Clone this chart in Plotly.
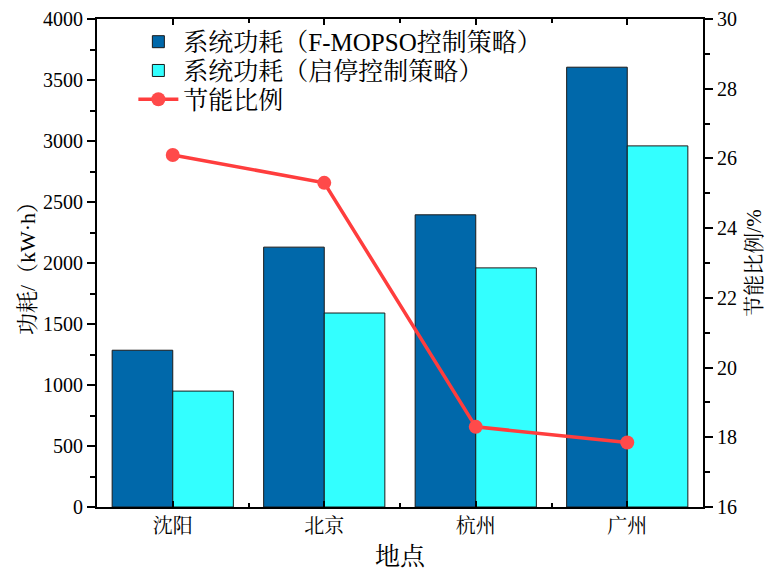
import plotly.graph_objects as go

categories = ["沈阳", "北京", "杭州", "广州"]
power_fmopso = [1285, 2130, 2395, 3605]
power_startstop = [950, 1590, 1960, 2960]
saving_ratio = [26.1, 25.3, 18.3, 17.85]

names = ["系统功耗（F-MOPSO控制策略）", "系统功耗（启停控制策略）", "节能比例"]

xpos = list(range(len(categories)))
font_family = "Liberation Serif, Noto Serif CJK SC, Noto Sans CJK SC, serif"

fig = go.Figure()
fig.add_trace(go.Bar(x=xpos, y=power_fmopso, name=names[0], legend="legend",
                     marker=dict(color="#0068AA", line=dict(color="#1a1a1a", width=1))))
fig.add_trace(go.Bar(x=xpos, y=power_startstop, name=names[1], legend="legend2",
                     marker=dict(color="#33FFFF", line=dict(color="#1a1a1a", width=1))))
fig.add_trace(go.Scatter(x=xpos, y=saving_ratio, name=names[2], yaxis="y2", legend="legend3",
                         mode="lines+markers",
                         line=dict(color="#FF3D3D", width=3.5),
                         marker=dict(color="#FF4A4A", size=14, line=dict(color="#FF3D3D", width=0))))

leg_common = dict(x=0.06, xanchor="left", yanchor="middle",
                  bgcolor="rgba(0,0,0,0)", font=dict(size=25), itemwidth=40)

fig.update_layout(
    width=766, height=570,
    margin=dict(l=97, r=63, t=19, b=63),
    paper_bgcolor="white", plot_bgcolor="white",
    barmode="group", bargap=0.2, bargroupgap=0,
    font=dict(family=font_family, size=18, color="black"),
    showlegend=True,
    legend=dict(y=0.953, **leg_common),
    legend2=dict(y=0.894, **leg_common),
    legend3=dict(y=0.835, **leg_common),
    xaxis=dict(range=[-0.5, 3.5], tickmode="array", tickvals=xpos, ticktext=categories,
               ticks="inside", ticklen=6, tickwidth=1.5, tickcolor="black",
               minor=dict(tickmode="array", tickvals=[0.5, 1.5, 2.5], ticks="inside",
                          ticklen=4, tickwidth=1.5, tickcolor="black"),
               showline=True, linecolor="black", linewidth=2, mirror="ticks",
               showgrid=False, zeroline=False, automargin=False,
               tickfont=dict(size=20),
               title=dict(text="地点", font=dict(size=25), standoff=12)),
    yaxis=dict(range=[0, 4000], dtick=500, ticks="outside", ticklen=8, tickwidth=1.5,
               tickcolor="black",
               minor=dict(dtick=250, ticks="outside", ticklen=5, tickwidth=1.5, tickcolor="black"),
               showline=True, linecolor="black", linewidth=2, automargin=False,
               showgrid=False, zeroline=False, tickfont=dict(size=20),
               title=dict(text="功耗/（kW·h）", font=dict(size=22), standoff=1)),
    yaxis2=dict(range=[16, 30], dtick=2, overlaying="y", side="right",
                ticks="outside", ticklen=8, tickwidth=1.5, tickcolor="black",
                minor=dict(dtick=1, ticks="outside", ticklen=5, tickwidth=1.5, tickcolor="black"),
                showline=True, linecolor="black", linewidth=2, automargin=False,
                showgrid=False, zeroline=False, tickfont=dict(size=20),
                title=dict(text="节能比例/%", font=dict(size=21), standoff=12)),
)

fig.write_html("out.html", config={"displayModeBar": False},
               post_script="document.body.style.margin='0';")
